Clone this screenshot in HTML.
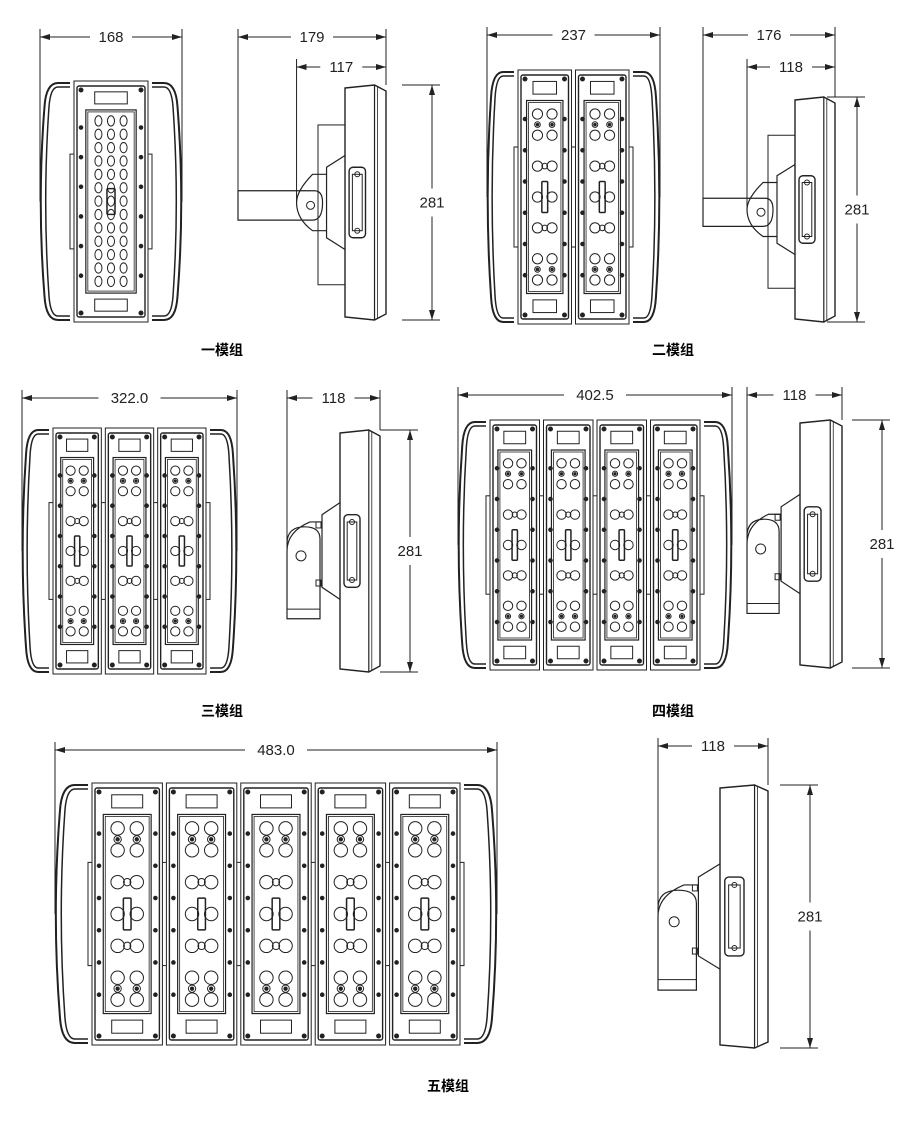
<!DOCTYPE html>
<html><head><meta charset="utf-8"><style>
body{margin:0;background:#fff}
svg{display:block}
text{font-family:"Liberation Sans","DejaVu Sans",sans-serif}
.lab{font-family:"Liberation Sans","Noto Sans CJK SC",sans-serif;font-weight:bold;font-size:14px}
</style></head><body>
<svg id="s" width="900" height="1128" viewBox="0 0 900 1128" xmlns="http://www.w3.org/2000/svg">
<defs><marker id="a" markerWidth="10" markerHeight="6" refX="10" refY="3" orient="auto-start-reverse"><path d="M0,0 L10,3 L0,6 Z" fill="#222"/></marker></defs>
<text class="lab" x="222" y="355" text-anchor="middle">一模组</text>
<text class="lab" x="673" y="355" text-anchor="middle">二模组</text>
<text class="lab" x="222" y="716" text-anchor="middle">三模组</text>
<text class="lab" x="673" y="716" text-anchor="middle">四模组</text>
<text class="lab" x="448" y="1091" text-anchor="middle">五模组</text>
</svg>
<script>
(function(){
var S=document.getElementById('s'),o='';
function L(x1,y1,x2,y2,w){o+='<line x1="'+x1+'" y1="'+y1+'" x2="'+x2+'" y2="'+y2+'" stroke="#222" stroke-width="'+(w||1)+'"/>';}
function R(x,y,w,h,sw,rx){o+='<rect x="'+x+'" y="'+y+'" width="'+w+'" height="'+h+'" rx="'+(rx||0)+'" fill="none" stroke="#222" stroke-width="'+(sw||1)+'"/>';}
function C(x,y,r,f){o+='<circle cx="'+x+'" cy="'+y+'" r="'+r+'" fill="'+(f||'none')+'" stroke="#222" stroke-width="1"/>';}
function P(d,sw){o+='<path d="'+d+'" fill="none" stroke="#222" stroke-width="'+(sw||1)+'"/>';}
function T(x,y,t){o+='<text x="'+x+'" y="'+(y+5)+'" font-size="15" fill="#222" text-anchor="middle">'+t+'</text>';}
function dimH(x1,x2,y,t,ext1,ext2){
  var m=(x1+x2)/2,g=t.length*5+6;
  o+='<line x1="'+x1+'" y1="'+y+'" x2="'+(m-g)+'" y2="'+y+'" stroke="#222" marker-start="url(#a)"/>';
  o+='<line x1="'+(m+g)+'" y1="'+y+'" x2="'+x2+'" y2="'+y+'" stroke="#222" marker-end="url(#a)"/>';
  T(m,y,t);
  if(ext1!=null)L(x1,y-8,x1,ext1);
  if(ext2!=null)L(x2,y-8,x2,ext2);
}
function dimV(x,y1,y2,t){
  var m=(y1+y2)/2;
  o+='<line x1="'+x+'" y1="'+y1+'" x2="'+x+'" y2="'+(m-14)+'" stroke="#222" marker-start="url(#a)"/>';
  o+='<line x1="'+x+'" y1="'+(m+14)+'" x2="'+x+'" y2="'+y2+'" stroke="#222" marker-end="url(#a)"/>';
  T(x,m,t);
  L(x-30,y1,x+8,y1);L(x-30,y2,x+8,y2);
}
function arc(x1,x2,y1,y2,left){
  var w=x2-x1,h=y2-y1;
  if(left){
    P('M'+x2+','+y1+' L'+(x1+w*0.6)+','+y1+' Q'+(x1+w*0.2)+','+y1+' '+(x1+w*0.15)+','+(y1+h*0.1)+' Q'+(x1-w*0.1)+','+(y1+h/2)+' '+(x1+w*0.15)+','+(y2-h*0.1)+' Q'+(x1+w*0.2)+','+y2+' '+(x1+w*0.6)+','+y2+' L'+x2+','+y2,2);
    P('M'+x2+','+(y1+4)+' L'+(x1+w*0.6)+','+(y1+4)+' Q'+(x1+w*0.35)+','+(y1+4)+' '+(x1+w*0.3)+','+(y1+h*0.1)+' Q'+(x1+w*0.08)+','+(y1+h/2)+' '+(x1+w*0.3)+','+(y2-h*0.1)+' Q'+(x1+w*0.35)+','+(y2-4)+' '+(x1+w*0.6)+','+(y2-4)+' L'+x2+','+(y2-4),1.5);
  }else{
    P('M'+x1+','+y1+' L'+(x2-w*0.6)+','+y1+' Q'+(x2-w*0.2)+','+y1+' '+(x2-w*0.15)+','+(y1+h*0.1)+' Q'+(x2+w*0.1)+','+(y1+h/2)+' '+(x2-w*0.15)+','+(y2-h*0.1)+' Q'+(x2-w*0.2)+','+y2+' '+(x2-w*0.6)+','+y2+' L'+x1+','+y2,2);
    P('M'+x1+','+(y1+4)+' L'+(x2-w*0.6)+','+(y1+4)+' Q'+(x2-w*0.35)+','+(y1+4)+' '+(x2-w*0.3)+','+(y1+h*0.1)+' Q'+(x2-w*0.08)+','+(y1+h/2)+' '+(x2-w*0.3)+','+(y2-h*0.1)+' Q'+(x2-w*0.35)+','+(y2-4)+' '+(x2-w*0.6)+','+(y2-4)+' L'+x1+','+(y2-4),1.5);
  }
}
function module(x,y,w,h,single){
  R(x,y,w,h,1);R(x+3,y+5,w-6,h-10,1.4,2);
  R(x+w*0.28,y+h*0.045,w*0.44,h*0.05,1);
  R(x+w*0.28,y+h*0.905,w*0.44,h*0.05,1);
  var ix=x+w*0.16,iw=w*0.68,iy=y+h*0.12,ih=h*0.76;
  R(ix,iy,iw,ih,1.2);R(ix+2,iy+2,iw-4,ih-4,0.8);
  C(x+7,y+9,2,'#222');C(x+w-7,y+9,2,'#222');C(x+7,y+h-9,2,'#222');C(x+w-7,y+h-9,2,'#222');
  for(var k=1;k<=6;k++){var yy=y+h*(0.07+k*0.123);C(x+7,yy,1.8,'#222');C(x+w-7,yy,1.8,'#222');}
  if(single){
    for(var r=0;r<13;r++)for(var c=0;c<3;c++){var cx=ix+iw*(0.25+c*0.25),cy=iy+ih*(0.06+r*0.073);o+='<ellipse cx="'+cx+'" cy="'+cy+'" rx="'+(iw*0.07)+'" ry="'+(ih*0.028)+'" fill="none" stroke="#222" stroke-width="1"/>';}
    R(ix+iw*0.42,iy+ih*0.43,iw*0.16,ih*0.14,1.5,1);
  }else{
    var rr=Math.min(iw*0.14,ih*0.035);
    var rows=[0.07,0.18,0.34,0.5,0.66,0.82,0.93];
    rows.forEach(function(f){C(ix+iw*0.3,iy+ih*f,rr);C(ix+iw*0.7,iy+ih*f,rr);});
    [0.125,0.875].forEach(function(f){C(ix+iw*0.3,iy+ih*f,rr*0.55);C(ix+iw*0.7,iy+ih*f,rr*0.55);C(ix+iw*0.3,iy+ih*f,rr*0.25,'#222');C(ix+iw*0.7,iy+ih*f,rr*0.25,'#222');});
    C(ix+iw*0.5,iy+ih*0.34,rr*0.55);C(ix+iw*0.5,iy+ih*0.66,rr*0.55);
    R(ix+iw*0.42,iy+ih*0.42,iw*0.16,ih*0.16,1.5,1);
  }
}
function drawTop(x1,x2,y1,y2,n,aw,dimY,label){
  arc(x1,x1+aw,y1,y2,true);arc(x2-aw,x2,y1,y2,false);
  var mx1=x1+aw+4,mx2=x2-aw-4,g=4,mw=(mx2-mx1-(n-1)*g)/n,h=y2-y1;
  R(x1+aw,y1+h*0.3,mx2-mx1+8,h*0.4,1);
  for(var i=0;i<n;i++){var mx=mx1+i*(mw+g);o+='<rect x="'+mx+'" y="'+(y1-2)+'" width="'+mw+'" height="'+(h+4)+'" fill="#fff"/>';module(mx,y1-2,mw,h+4,n==1);}
  dimH(x1,x2,dimY,label,y1+h*0.5,y1+h*0.5);
}
function side(ax,bx,bw,y1,y2,vert,dimY,lab,lab2,dimY2,dimX){
  var h=y2-y1,m=(y1+y2)/2,fx=bx+bw*0.72;
  P('M'+bx+','+(y1+3)+' L'+fx+','+y1+' L'+(bx+bw)+','+(y1+6)+' L'+(bx+bw)+','+(y2-6)+' L'+fx+','+y2+' L'+bx+','+(y2-3)+' Z',1.4);
  L(fx,y1,fx,y2,1.2);L(fx+3,y1+2,fx+3,y2-2,0.8);
  var sx=bx-bw*0.45;
  P('M'+bx+','+(m-h*0.2)+' L'+sx+','+(m-h*0.15)+' L'+sx+','+(m+h*0.15)+' L'+bx+','+(m+h*0.2),1.2);
  R(bx+bw*0.1,m-h*0.15,bw*0.4,h*0.3,1.4,4);R(bx+bw*0.18,m-h*0.12,bw*0.24,h*0.24,1);
  C(bx+bw*0.3,m-h*0.12,2.5);C(bx+bw*0.3,m+h*0.12,2.5);
  var extA;
  if(vert){
    P('M'+sx+','+(m-h*0.12)+' L'+(sx-bw*0.3)+','+(m-h*0.12)+' Q'+ax+','+(m-h*0.08)+' '+ax+','+(m)+' L'+ax+','+(m+h*0.28)+' L'+(sx-2)+','+(m+h*0.28)+' L'+(sx-2)+','+(m-h*0.05)+' Q'+(sx-2)+','+(m-h*0.1)+' '+(ax+(sx-ax)/2)+','+(m-h*0.1)+' Q'+ax+','+(m-h*0.1)+' '+ax+','+(m-h*0.03),1.2);
    L(ax,m+h*0.24,sx-2,m+h*0.24);C(ax+(sx-ax)*0.4,m+h*0.02,5);
    R(sx-6,m-h*0.12,5,6,1);R(sx-6,m+h*0.12,5,6,1);
    extA=m+h*0.28;
  }else{
    R(bx-27,y1+h*0.17,27,h*0.68,1);
    P('M'+sx+','+(m-h*0.12)+' L'+(sx-14)+','+(m-h*0.12)+' Q'+(sx-30)+','+(m-h*0.05)+' '+(sx-30)+','+m+' Q'+(sx-30)+','+(m+h*0.07)+' '+(sx-14)+','+(m+h*0.12)+' L'+sx+','+(m+h*0.12),1.2);
    P('M'+ax+','+(m-h*0.05)+' L'+(sx-12)+','+(m-h*0.05)+' Q'+(sx-4)+','+(m-h*0.05)+' '+(sx-4)+','+m+' Q'+(sx-4)+','+(m+h*0.075)+' '+(sx-14)+','+(m+h*0.075)+' L'+ax+','+(m+h*0.075)+' Z',1.2);
    C(sx-16,m+h*0.012,4);
    extA=m-h*0.05;
  }
  dimH(ax,bx+bw,dimY,lab,extA,y1);
  if(lab2)dimH(sx-30,bx+bw,dimY2,lab2,m,null);
  dimV(dimX,y1,y2,'281');
}
drawTop(40,182,83,320,1,30,37,'168');
side(238,345,41,85,320,false,37,'179','117',67,432);
drawTop(487,660,72,322,2,27,35,'237');
side(703,795,40,97,322,false,35,'176','118',67,857);
drawTop(22,237,430,672,3,27,398,'322.0');
side(287,340,40,430,672,true,398,'118',null,0,410);
drawTop(458,732,422,668,4,28,395,'402.5');
side(747,800,42,420,668,true,395,'118',null,0,882);
drawTop(55,497,785,1043,5,33,750,'483.0');
side(658,720,48,785,1048,true,746,'118',null,0,810);
S.insertAdjacentHTML('beforeend',o);
})();
</script>
</body></html>
